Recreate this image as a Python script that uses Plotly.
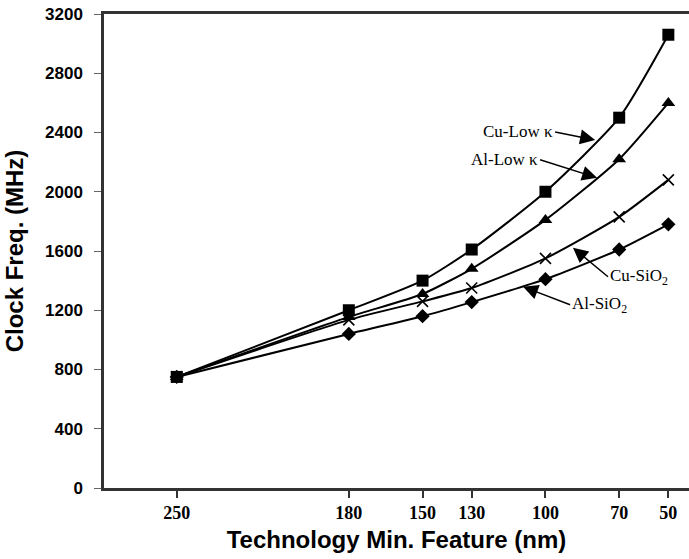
import plotly.graph_objects as go

nm = [250, 180, 150, 130, 100, 70, 50]
cu_low_k = [750, 1200, 1400, 1610, 2000, 2500, 3060]
al_low_k = [750, 1155, 1310, 1480, 1810, 2220, 2600]
cu_sio2 = [750, 1135, 1260, 1350, 1550, 1830, 2080]
al_sio2 = [750, 1040, 1160, 1255, 1410, 1610, 1780]
x_ticks = [250, 180, 150, 130, 100, 70, 50]
y_ticks = [0, 400, 800, 1200, 1600, 2000, 2400, 2800, 3200]

series = [
    ("Cu-Low κ", cu_low_k, "square", 12, 0),
    ("Al-Low κ", al_low_k, "triangle-up", 12, 0),
    ("Cu-SiO2", cu_sio2, "x-thin", 11, 1.6),
    ("Al-SiO2", al_sio2, "diamond", 11, 0),
]

fig = go.Figure()
for name, ys, sym, sz, lw in series:
    fig.add_trace(go.Scatter(
        x=nm, y=ys, mode="lines+markers", name=name,
        line=dict(color="black", width=2, shape="spline", smoothing=0.6),
        marker=dict(symbol=sym, size=sz, color="black",
                    line=dict(color="black", width=lw)),
        showlegend=False,
    ))

serif = dict(family="Liberation Serif", size=17, color="black")

# (text, head x, head y, ax, ay, xanchor)
notes = [
    ("Cu-Low κ", 79.8, 2350, -40, -8, "right"),
    ("Al-Low κ", 79.0, 2094, -57, -18, "right"),
    ("Cu-SiO<sub>2</sub>", 88.8, 1622, 35, 29, "left"),
    ("Al-SiO<sub>2</sub>", 109.1, 1359, 47, 18, "left"),
]
for txt, hx, hy, ax, ay, xa in notes:
    fig.add_annotation(
        x=hx, y=hy, ax=ax, ay=ay, axref="pixel", ayref="pixel",
        text=txt, showarrow=True, arrowhead=2, arrowsize=2.0,
        arrowwidth=1.5, arrowcolor="black", xanchor=xa,
        font=serif, standoff=0,
    )

fig.update_layout(
    width=689, height=559,
    margin=dict(l=104, r=0, t=14, b=71),
    paper_bgcolor="white", plot_bgcolor="white",
    xaxis=dict(
        range=[279.6, 41.6], tickvals=x_ticks,
        ticktext=[str(v) for v in x_ticks],
        showline=True, linewidth=2.5, linecolor="#333", mirror=True,
        ticks="outside", ticklen=7, tickwidth=1.5, tickcolor="#333",
        showgrid=False, zeroline=False, automargin=False,
        tickfont=dict(family="Liberation Serif", size=18, color="black", weight="bold"),
        title=dict(text="<b>Technology Min. Feature (nm)</b>",
                   font=dict(family="Liberation Sans", size=24, color="black"),
                   standoff=9),
    ),
    yaxis=dict(
        range=[0, 3200], tickvals=y_ticks,
        showline=True, linewidth=2.5, linecolor="#333",
        ticks="outside", ticklen=7, tickwidth=1.2, tickcolor="#666",
        showgrid=False, zeroline=False, automargin=False,
        tickfont=dict(family="Liberation Sans", size=17, color="black", weight="bold"),
        ticklabelstandoff=8,
        title=dict(text="<b>Clock Freq. (MHz)</b>",
                   font=dict(family="Liberation Sans", size=24, color="black"),
                   standoff=15),
    ),
)

fig.write_html("out.html",
               config={"displayModeBar": False},
               post_script="document.body.style.margin='0';document.body.style.padding='0';")
